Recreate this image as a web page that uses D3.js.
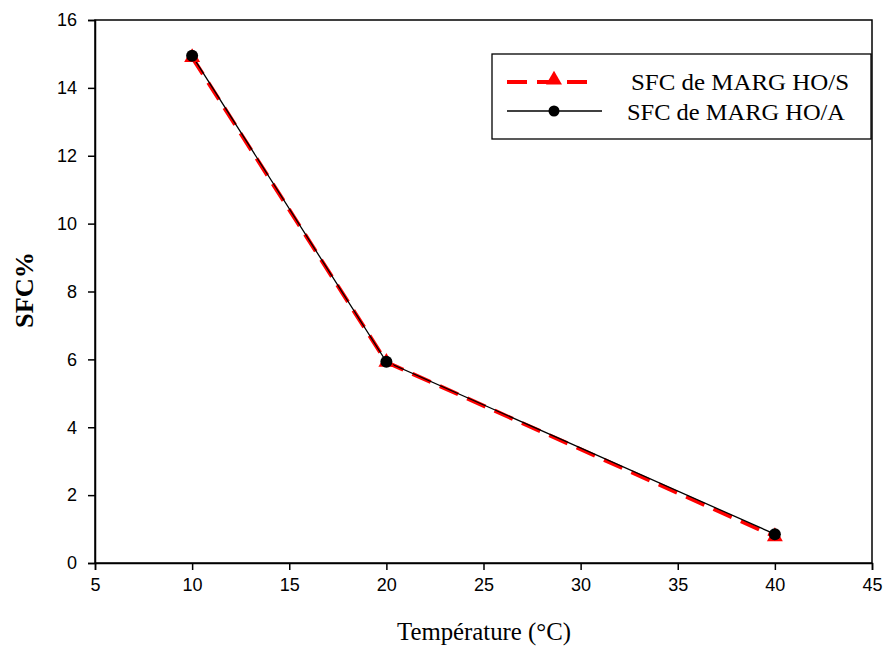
<!DOCTYPE html>
<html><head><meta charset="utf-8">
<script src="https://cdn.jsdelivr.net/npm/d3@7"></script>
<style>body{margin:0;background:#fff}</style>
</head><body>
<svg id="c" width="886" height="646"></svg>
<script>
const temps = [10, 20, 40];
const sfcS = [14.9, 5.92, 0.78];
const sfcA = [14.95, 5.93, 0.85];
const xTicks = [5, 10, 15, 20, 25, 30, 35, 40, 45];
const yTicks = [0, 2, 4, 6, 8, 10, 12, 14, 16];
const seriesNames = ["SFC de MARG HO/S", "SFC de MARG HO/A"];

const svg = d3.select("#c");
const L = 95, R = 872, T = 20, B = 563;
const x = d3.scaleLinear().domain([5, 45]).range([L, R]);
const y = d3.scaleLinear().domain([0, 16]).range([B, T]);

svg.append("rect").attr("x", L).attr("y", T).attr("width", R - L).attr("height", B - T)
  .attr("fill", "none").attr("stroke", "#000").attr("stroke-width", 1.5);

const xa = svg.append("g").attr("transform", `translate(0,${B})`)
  .call(d3.axisBottom(x).tickValues(xTicks).tickSize(7).tickPadding(8).tickFormat(d3.format("d")));
const ya = svg.append("g").attr("transform", `translate(${L},0)`)
  .call(d3.axisLeft(y).tickValues(yTicks).tickSize(7).tickPadding(11).tickFormat(d3.format("d")));
[xa, ya].forEach(a => {
  a.select(".domain").attr("stroke-width", 1.5);
  a.selectAll(".tick line").attr("stroke-width", 1.5);
  a.selectAll("text").attr("font-family", "Liberation Sans, Arial, sans-serif").attr("font-size", 18).attr("fill", "#000");
});

const dataS = temps.map((t, i) => [t, sfcS[i]]);
const dataA = temps.map((t, i) => [t, sfcA[i]]);
const line = d3.line().x(d => x(d[0])).y(d => y(d[1]));

svg.append("path").attr("d", line(dataS)).attr("fill", "none")
  .attr("stroke", "#ff0000").attr("stroke-width", 4).attr("stroke-dasharray", "20,10");
svg.append("path").attr("d", line(dataA)).attr("fill", "none")
  .attr("stroke", "#000").attr("stroke-width", 1.3);

const tri = d3.symbol().type(d3.symbolTriangle).size(110);
svg.selectAll(".tri").data(dataS).enter().append("path")
  .attr("transform", d => `translate(${x(d[0])},${y(d[1])})`)
  .attr("d", tri).attr("fill", "#ff0000");
svg.selectAll(".dot").data(dataA).enter().append("circle")
  .attr("cx", d => x(d[0])).attr("cy", d => y(d[1])).attr("r", 6).attr("fill", "#000");

// legend
const lg = svg.append("g");
lg.append("rect").attr("x", 492).attr("y", 54).attr("width", 379).attr("height", 85)
  .attr("fill", "#fff").attr("stroke", "#000").attr("stroke-width", 1.3);
lg.append("line").attr("x1", 507).attr("x2", 592).attr("y1", 82).attr("y2", 82)
  .attr("stroke", "#ff0000").attr("stroke-width", 4).attr("stroke-dasharray", "20,10");
lg.append("path").attr("transform", "translate(554,80)").attr("d", tri).attr("fill", "#ff0000");
lg.append("line").attr("x1", 507).attr("x2", 602).attr("y1", 111).attr("y2", 111)
  .attr("stroke", "#000").attr("stroke-width", 1.3);
lg.append("circle").attr("cx", 554).attr("cy", 111).attr("r", 5.5).attr("fill", "#000");
lg.selectAll("text").data(seriesNames).enter().append("text")
  .attr("x", (d, i) => i === 0 ? 631 : 627).attr("y", (d, i) => 90 + i * 30)
  .attr("font-family", "Liberation Serif, Times New Roman, serif").attr("font-size", 24)
  .attr("textLength", 218).attr("lengthAdjust", "spacingAndGlyphs")
  .text(d => d);

svg.append("text").attr("x", 484).attr("y", 640).attr("text-anchor", "middle")
  .attr("font-family", "Liberation Serif, Times New Roman, serif").attr("font-size", 25)
  .attr("textLength", 174).attr("lengthAdjust", "spacingAndGlyphs")
  .text("Température (°C)");
svg.append("text").attr("transform", "translate(33,290) rotate(-90)").attr("text-anchor", "middle")
  .attr("font-family", "Liberation Serif, Times New Roman, serif").attr("font-size", 25).attr("font-weight", "bold")
  .attr("textLength", 76).attr("lengthAdjust", "spacingAndGlyphs")
  .text("SFC%");
</script>
</body></html>
